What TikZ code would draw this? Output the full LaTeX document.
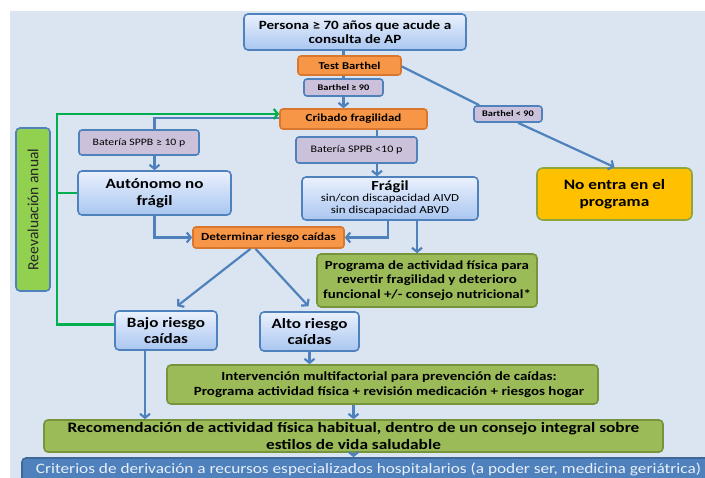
\documentclass[tikz,border=0pt]{standalone}
\usepackage{fontspec}
\setmainfont{Carlito}[FakeStretch=1.2]
\newfontfamily\plainfont{Carlito}
\usetikzlibrary{arrows.meta,calc}
\definecolor{bgc}{HTML}{DBE5F1}
\definecolor{lineblue}{HTML}{4F81BD}
\definecolor{boxtop}{HTML}{EAF1FD}
\definecolor{boxbot}{HTML}{A9C6F0}
\definecolor{orfill}{HTML}{F79646}
\definecolor{ordraw}{HTML}{D9772E}
\definecolor{lavfill}{HTML}{CCC1DA}
\definecolor{grfill}{HTML}{9BBB59}
\definecolor{grdraw}{HTML}{77933C}
\definecolor{reevfill}{HTML}{92D050}
\definecolor{yelfill}{HTML}{FFC000}
\definecolor{yeldraw}{HTML}{8FA63E}
\definecolor{critfill}{HTML}{4F81BD}
\definecolor{crittext}{HTML}{E8EFF8}
\definecolor{greenline}{HTML}{00B050}
\newcommand{\fsz}[2]{\fontsize{#1}{#2}\selectfont}
\begin{document}
\begin{tikzpicture}[x=1pt,y=-1pt,
  every node/.style={inner sep=0pt, align=center},
  basebox/.style={draw, rounded corners=4pt, line width=1.6pt},
  bluebox/.style={basebox, draw=lineblue, top color=boxtop, bottom color=boxbot},
  orbox/.style={basebox, draw=ordraw, fill=orfill, rounded corners=3pt},
  lavbox/.style={basebox, draw=lineblue, fill=lavfill, rounded corners=3pt},
  grbox/.style={basebox, draw=grdraw, fill=grfill},
  conn/.style={draw=lineblue, line width=2.2pt},
  arr/.style={conn, -{Straight Barb[length=4pt,width=10pt]}},
  gconn/.style={draw=greenline, line width=2.2pt},
  garr/.style={gconn, -{Straight Barb[length=4pt,width=10pt]}}
]
\useasboundingbox (0,0) rectangle (705,478);
\fill[bgc] (10,11) rectangle (705,478);

% nodes
\node[bluebox, minimum width=222pt, minimum height=36pt, font={\fsz{12.6}{14.5}\bfseries}] (persona) at (355,32) {Persona ≥ 70 años que acude a\\consulta de AP};
\node[orbox, minimum width=103pt, minimum height=19pt, font={\fsz{10.5}{12}\bfseries}] (tb) at (349.5,65.5) {Test Barthel};
\node[lavbox, minimum width=79pt, minimum height=17pt, font={\fsz{8.6}{10}\bfseries}] (b90) at (343.5,87.5) {Barthel ≥ 90};
\node[orbox, minimum width=147pt, minimum height=20pt, font={\fsz{10.8}{12}\bfseries}] (crib) at (353.5,119) {Cribado fragilidad};
\node[lavbox, minimum width=120pt, minimum height=25pt, font={\fsz{9.8}{12}}] (sppbhi) at (139,142.5) {Batería SPPB ≥ 10 p};
\node[lavbox, minimum width=121pt, minimum height=26pt, font={\fsz{10}{12}}] (sppblo) at (356.5,150) {Batería SPPB <10 p};
\node[bluebox, minimum width=153pt, minimum height=44pt, font={\fsz{14.2}{17}\bfseries}] (auto) at (154.5,193) {Autónomo no\\frágil};
\node[bluebox, minimum width=176pt, minimum height=43pt] (fragil) at (390,198.5) {{\fsz{13.8}{15}\bfseries Frágil}\\[-1pt]{\fsz{10.8}{13}sin/con discapacidad AIVD}\\{\fsz{10.8}{13}sin discapacidad ABVD}};
\node[orbox, minimum width=151pt, minimum height=21pt, font={\fsz{10.9}{12}\bfseries}] (det) at (268.5,237.5) {Determinar riesgo caídas};
\node[grbox, minimum width=220pt, minimum height=53pt, font={\fsz{12.4}{14.5}\bfseries}] (prog) at (427,280.5) {Programa de actividad física para\\revertir fragilidad y deterioro\\funcional +/- consejo nutricional*};
\node[basebox, draw=lineblue, fill=reevfill, minimum width=163pt, minimum height=34pt, rotate=90, font={\plainfont\fsz{15.5}{17}}, text=black!85] (reev) at (33,209.5) {Reevaluación anual};
\node[bluebox, minimum width=102pt, minimum height=39pt, font={\fsz{14.2}{16}\bfseries}] (bajo) at (166,330.5) {Bajo riesgo\\caídas};
\node[bluebox, minimum width=99pt, minimum height=39pt, font={\fsz{14.2}{16}\bfseries}] (alto) at (309.5,331.5) {Alto riesgo\\caídas};
\node[grbox, minimum width=431pt, minimum height=39pt] (interv) at (382.5,384.5) {};
\node[font={\fsz{12.5}{15}\bfseries}] (intervtxt) at (389,384.5) {Intervención multifactorial para prevención de caídas:\\Programa actividad física + revisión medicación + riesgos hogar};
\node[grbox, minimum width=619pt, minimum height=32pt, font={\fsz{14.4}{17.5}\bfseries}] (recom) at (353.5,436) {Recomendación de actividad física habitual, dentro de un consejo integral sobre\\estilos de vida saludable};
\node[basebox, draw=lineblue!80!black, fill=critfill, minimum width=698pt, minimum height=30pt] (crit) at (371,473) {};
\node[font={\fsz{14.4}{15}}, text=crittext] (crittxt) at (368.5,469) {Criterios de derivación a recursos especializados hospitalarios (a poder ser, medicina geriátrica)};
\node[lavbox, minimum width=68pt, minimum height=16pt, font={\fsz{8.6}{10}\bfseries}] (b90lt) at (508,114) {Barthel < 90};
\node[basebox, draw=yeldraw, fill=yelfill, minimum width=155pt, minimum height=52pt, font={\fsz{14.4}{17}\bfseries}, rounded corners=6pt] (noentra) at (614.5,194) {No entra en el\\programa};

% helper coordinates
\coordinate (vx) at (377,0);
\coordinate (fx) at (388,0);
\coordinate (px) at (417,0);
\coordinate (bx) at (145,0);
\coordinate (gx) at (57,114);

% blue connectors
\draw[conn] (persona.south -| b90.north) -- (tb.north -| b90.north);
\draw[conn] (tb.south -| b90.north) -- (b90.north);
\draw[arr] (b90.south) -- (crib.north -| b90.south);
\draw[conn] ($(tb.east)+(0,1)$) -- ($(b90lt.north west)+(6,0)$);
\draw[arr] ($(b90lt.south)+(10,0)$) -- (noentra.north);
\draw[conn] ($(crib.west)+(0,-1)$) -| (auto.north |- sppbhi.north);
\draw[arr] (auto.north |- sppbhi.south) -- (auto.north);
\draw[conn] (crib.south -| vx) -- (sppblo.north -| vx);
\draw[arr] (sppblo.south -| vx) -- (fragil.north -| vx);
\draw[arr] (auto.south) |- (det.west);
\draw[arr] (fragil.south -| fx) |- (det.east);
\draw[arr] (fragil.south -| px) -- (prog.north -| px);
\draw[arr] ($(det.south)+(-18,0)$) -- ($(bajo.north)+(11,-4)$);
\draw[arr] ($(det.south)+(-13,0)$) -- ($(alto.north)+(-1,-5)$);
\draw[arr] (alto.south) -- (interv.north -| alto.south);
\draw[arr] (bajo.south -| bx) -- (recom.north -| bx);
\draw[arr] (interv.south -| recom.north) -- (recom.north);
\draw[arr] (recom.south) -- (crit.north -| recom.south);

% green connectors
\draw[garr] ($(bajo.west)+(0,-6)$) -| (gx) -- (crib.west |- gx);
\draw[gconn] (auto.west) -- (auto.west -| gx);
\end{tikzpicture}
\end{document}
